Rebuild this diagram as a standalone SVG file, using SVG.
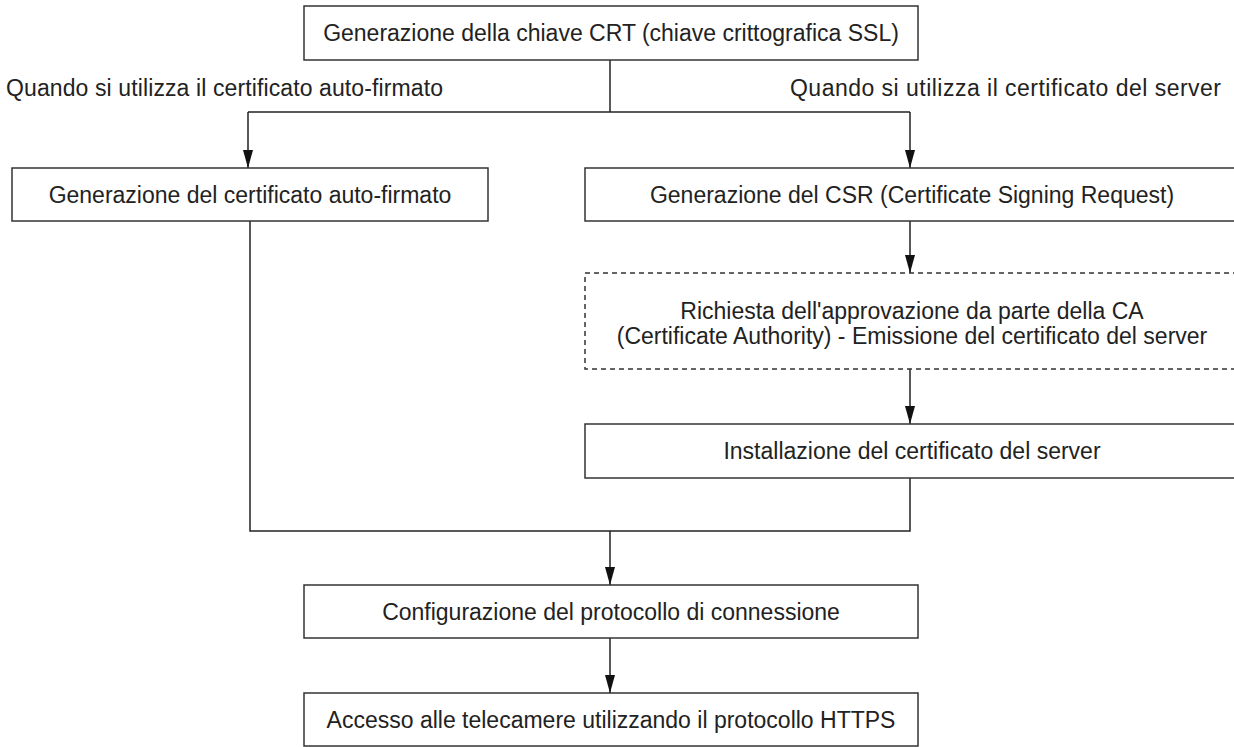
<svg xmlns="http://www.w3.org/2000/svg" width="1234" height="747" viewBox="0 0 1234 747">
<defs>
<style>
.box{fill:#fff;stroke:#333;stroke-width:1.5}
.dash{fill:#fff;stroke:#333;stroke-width:1.5;stroke-dasharray:5 4}
.t{font-family:"Liberation Sans",Arial,sans-serif;font-size:23px;fill:#222;text-anchor:middle}
.l{font-family:"Liberation Sans",Arial,sans-serif;font-size:23px;fill:#222}
.c{fill:none;stroke:#222;stroke-width:1.5}
</style>
<marker id="ah" viewBox="0 0 18 10" refX="18" refY="5" markerWidth="18" markerHeight="10" markerUnits="userSpaceOnUse" orient="auto">
<path d="M0,0 L18,5 L0,10 Z" fill="#111"/>
</marker>
</defs>
<rect width="1234" height="747" fill="#fff"/>
<g id="connectors">
<path class="c" d="M610,60 V112"/>
<path class="c" d="M248,112 H910"/>
<path class="c" d="M248,112 V168" marker-end="url(#ah)"/>
<path class="c" d="M910,112 V168" marker-end="url(#ah)"/>
<path class="c" d="M910,221 V273" marker-end="url(#ah)"/>
<path class="c" d="M910,369 V424" marker-end="url(#ah)"/>
<path class="c" d="M250,221 V531 H910 V478"/>
<path class="c" d="M610,531 V585" marker-end="url(#ah)"/>
<path class="c" d="M610,638 V693" marker-end="url(#ah)"/>
</g>
<g id="labels">
<text class="l" x="6" y="96" textLength="437" lengthAdjust="spacing">Quando si utilizza il certificato auto-firmato</text>
<text class="l" x="790" y="96" textLength="431" lengthAdjust="spacing">Quando si utilizza il certificato del server</text>
</g>
<g id="n-crt"><rect class="box" x="304" y="6" width="614" height="54"/><text class="t" x="611" y="41">Generazione della chiave CRT (chiave crittografica SSL)</text></g>
<g id="n-self"><rect class="box" x="12" y="168" width="476" height="53"/><text class="t" x="250" y="203">Generazione del certificato auto-firmato</text></g>
<g id="n-csr"><rect class="box" x="585" y="168" width="660" height="53"/><text class="t" x="912" y="203">Generazione del CSR (Certificate Signing Request)</text></g>
<g id="n-ca"><rect class="dash" x="585" y="273" width="660" height="96"/><text class="t" x="912" y="319">Richiesta dell'approvazione da parte della CA</text><text class="t" x="912" y="344">(Certificate Authority) - Emissione del certificato del server</text></g>
<g id="n-install"><rect class="box" x="585" y="424" width="660" height="54"/><text class="t" x="912" y="459">Installazione del certificato del server</text></g>
<g id="n-config"><rect class="box" x="304" y="585" width="614" height="53"/><text class="t" x="611" y="620">Configurazione del protocollo di connessione</text></g>
<g id="n-https"><rect class="box" x="304" y="693" width="614" height="53"/><text class="t" x="611" y="728">Accesso alle telecamere utilizzando il protocollo HTTPS</text></g>
</svg>
